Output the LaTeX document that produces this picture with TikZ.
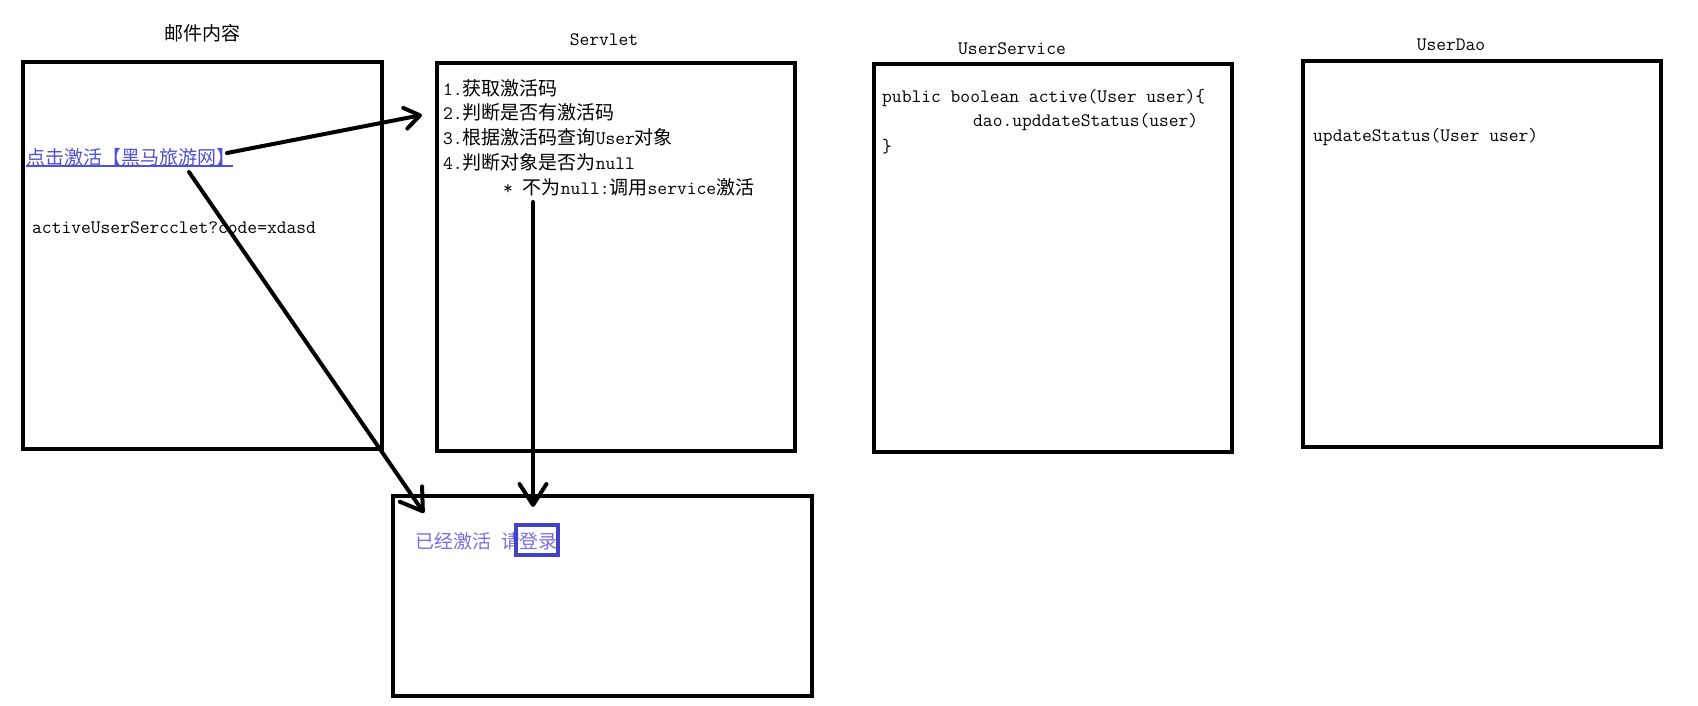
\documentclass[tikz,border=0pt]{standalone}
\usepackage{fontspec}
\newfontfamily\cjk{Noto Sans CJK SC}
\newcommand\zh[1]{{\cjk #1}}
\usetikzlibrary{arrows.meta}
\definecolor{linkc}{RGB}{80,80,215}
\definecolor{softc}{RGB}{125,110,225}
\definecolor{rectc}{RGB}{66,66,200}
\begin{document}
\begin{tikzpicture}[x=1pt,y=-1pt,
  box/.style={draw=black,line width=4pt,inner sep=0pt,minimum width=0pt},
  txt/.style={anchor=west,inner sep=0pt,font=\ttfamily\fontsize{19}{24}\selectfont},
  ttl/.style={anchor=center,inner sep=0pt,font=\ttfamily\fontsize{19}{24}\selectfont},
  arr/.style={line width=4pt,line cap=round,line join=round,-{Straight Barb[length=21pt,width=27pt,line cap=round,line join=round]}},
  arrs/.style={line width=4pt,line cap=round,line join=round,-{Straight Barb[length=15pt,width=21pt,line cap=round,line join=round]}}]
\useasboundingbox (0,0) rectangle (1698,706);
\fill[white] (0,0) rectangle (1698,706);
% boxes
\draw[box] (23,62) rectangle (382,449);
\draw[box] (437,63) rectangle (795,451);
\draw[box] (874,64) rectangle (1232,452);
\draw[box] (1303,61) rectangle (1661,447);
\draw[box] (393,496) rectangle (812,696);
% titles
\node[ttl] (t1) at (202,33) {\zh{邮件内容}};
\node[ttl] (t2) at (604,40) {Servlet};
\node[ttl] (t3) at (1012,49) {UserService};
\node[ttl] (t4) at (1451,45) {UserDao};
% box 1
\node[txt,text=linkc] (link) at (26,157) {\zh{点击激活【黑马旅游网】}};
\draw[linkc,line width=1.5pt] (26,166) -- (233,166);
\node[txt] (url) at (32,228) {activeUserSercclet?code=xdasd};
% box 2
\node[txt] (s1) at (443,88) {1.\zh{获取激活码}};
\node[txt] (s2) at (443,112) {2.\zh{判断是否有激活码}};
\node[txt] (s3) at (443,137) {3.\zh{根据激活码查询}User\zh{对象}};
\node[txt] (s4) at (443,162) {4.\zh{判断对象是否为}null};
\node[txt] (s5) at (503,187) {* \zh{不为}null:\zh{调用}service\zh{激活}};
% box 3
\node[txt] (u1) at (882,98) {public boolean active(User user)\{};
\node[txt] (u2) at (973,122) {dao.upddateStatus(user)};
\node[txt] (u3) at (882,147) {\}};
% box 4
\node[txt] (d1) at (1313,137) {updateStatus(User user)};
% box 5
\node[txt,text=softc] (r1) at (415,541) {\zh{已经激活}};
\node[txt,text=softc] (r2) at (501,541) {\zh{请}};
\node[txt,text=softc] (r3) at (519,541) {\zh{登录}};
\draw[rectc,line width=4pt] (516,525) rectangle (558,555);
% arrows
\coordinate (a1s) at (227,153);
\coordinate (a1e) at (422,115);
\coordinate (a2s) at (533,202);
\coordinate (a2e) at (533,507);
\coordinate (a3s) at (189,172);
\coordinate (a3e) at (424,513);
\draw[arrs] (a1s) -- (a1e);
\draw[arr] (a2s) -- (a2e);
\draw[arr] (a3s) -- (a3e);
\end{tikzpicture}
\end{document}
